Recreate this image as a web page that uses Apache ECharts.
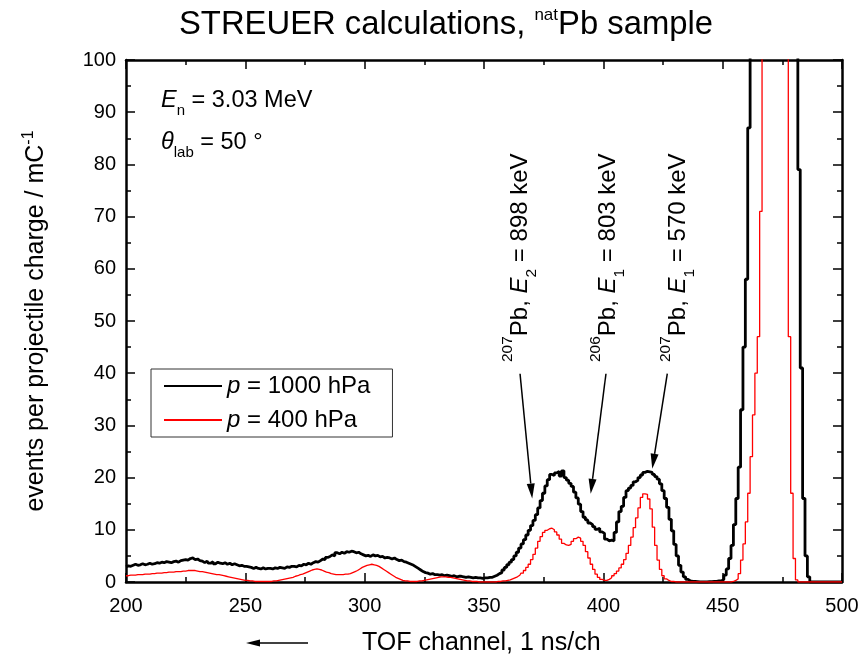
<!DOCTYPE html>
<html>
<head>
<meta charset="utf-8">
<script src="https://cdn.jsdelivr.net/npm/echarts@6/dist/echarts.min.js"></script>
<style>
  body { margin: 0; background: #fff; }
  #main { width: 868px; height: 657px; }
</style>
</head>
<body>
<div id="main"></div>
<script>
// TOF spectra (STREUER), one value per channel starting at channel 200
var firstChannel = 200;

var p1000 = [
  2.9, 3.1, 3.0, 3.2, 3.4, 3.2, 3.3, 3.5, 3.3, 3.4,
  3.6, 3.4, 3.5, 3.7, 3.6, 3.8, 3.7, 3.9, 3.8, 3.7,
  3.9, 4.0, 3.8, 4.1, 4.2, 4.3, 4.2, 4.5, 4.6, 4.3,
  4.4, 4.1, 4.0, 3.7, 4.0, 3.6, 3.9, 3.5, 3.8, 3.6,
  3.5, 3.7, 3.4, 3.6, 3.3, 3.5, 3.3, 3.1, 3.2, 3.0,
  3.0, 2.9, 2.8, 2.6, 2.8, 2.6, 2.5, 2.7, 2.5, 2.6,
  2.6, 2.5, 2.7, 2.6, 2.8, 2.7, 2.6, 2.9, 2.8, 3.0,
  3.0, 2.9, 3.2, 3.1, 3.4, 3.3, 3.6, 3.4, 3.7, 3.9,
  3.8, 4.1, 4.4, 4.3, 4.7, 4.9, 5.2, 5.0, 5.6, 5.4,
  5.7, 5.5, 5.8, 5.7, 5.9, 5.8, 5.6, 5.7, 5.4, 5.2,
  5.0, 5.1, 4.9, 5.2, 5.0, 5.1, 4.8, 4.9, 4.6, 4.7,
  4.6, 4.4, 4.6, 4.3, 4.1, 4.2, 3.9, 3.8, 3.6, 3.4,
  3.2, 2.9, 2.6, 2.3, 2.0, 1.8, 1.7, 1.5, 1.6, 1.4,
  1.4, 1.3, 1.4, 1.2, 1.3, 1.2, 1.1, 1.2, 1.0, 1.1,
  1.1, 1.0, 0.9, 1.0, 0.9, 0.8, 0.9, 0.8, 0.8, 0.7,
  0.8, 0.8, 0.9, 0.9, 1.1, 1.3, 1.6, 1.8, 2.3, 2.8,
  3.3, 3.8, 4.3, 5.0, 5.7, 6.5, 7.3, 8.1, 9.0, 9.9,
  10.8, 11.8, 12.9, 14.2, 15.6, 17.0, 18.4, 19.6, 20.6, 20.4,
  20.9, 21.2, 20.3, 21.3, 20.0, 19.5, 18.9, 18.3, 17.2, 16.1,
  14.9, 13.5, 12.4, 11.9, 11.3, 11.0, 10.6, 10.1, 10.3, 9.6,
  9.3, 8.2, 7.9, 8.0, 7.9, 9.5, 11.5, 13.5, 14.5, 16.2,
  17.5, 18.0, 18.5, 19.2, 19.5, 20.0, 20.5, 21.0, 21.2, 21.1,
  21.0, 20.6, 20.2, 19.7, 18.8, 17.5, 16.0, 14.3, 12.0, 9.8,
  7.2, 5.0, 3.2, 1.9, 1.0, 0.5, 0.2, 0.1, 0.1, 0.05,
  0, 0, 0, 0, 0.05, 0.05, 0.1, 0.1, 0.2, 0.2,
  0.5, 1.3, 2.5, 4.5, 7, 11, 16, 22, 33, 45,
  58, 87, 130, 170, 220, 270, 320, 370, 410, 440,
  460, 470, 465, 450, 420, 380, 330, 280, 230, 180,
  140, 110, 79, 41, 16, 5, 1, 0, 0, 0,
  0, 0, 0, 0, 0, 0, 0, 0, 0, 0,
  0
];

var p400 = [
  1.2, 1.2, 1.3, 1.3, 1.3, 1.4, 1.4, 1.4, 1.5, 1.5,
  1.5, 1.6, 1.6, 1.7, 1.7, 1.7, 1.8, 1.8, 1.9, 1.9,
  1.9, 2.0, 2.0, 2.0, 2.1, 2.1, 2.2, 2.2, 2.2, 2.2,
  2.1, 2.0, 2.0, 1.9, 1.8, 1.7, 1.6, 1.5, 1.4, 1.4,
  1.3, 1.2, 1.1, 1.0, 0.9, 0.8, 0.7, 0.6, 0.5, 0.4,
  0.3, 0.3, 0.2, 0.2, 0.1, 0.1, 0.1, 0.1, 0.1, 0.1,
  0.1, 0.1, 0.2, 0.2, 0.3, 0.4, 0.5, 0.6, 0.7, 0.8,
  0.9, 1.1, 1.2, 1.4, 1.5, 1.7, 1.9, 2.1, 2.3, 2.4,
  2.5, 2.4, 2.3, 2.1, 1.9, 1.8, 1.6, 1.5, 1.4, 1.4,
  1.4, 1.4, 1.5, 1.5, 1.6, 1.8, 2.0, 2.2, 2.5, 2.8,
  3.0, 3.2, 3.3, 3.4, 3.3, 3.2, 3.0, 2.7, 2.4, 2.1,
  1.8, 1.5, 1.2, 0.9, 0.7, 0.5, 0.3, 0.2, 0.2, 0.1,
  0.1, 0.1, 0.1, 0.2, 0.2, 0.3, 0.4, 0.5, 0.6, 0.7,
  0.8, 0.9, 1.0, 1.0, 1.0, 0.9, 0.9, 0.8, 0.7, 0.6,
  0.5, 0.4, 0.3, 0.2, 0.2, 0.1, 0.1, 0.1, 0, 0,
  0, 0, 0, 0, 0, 0, 0.1, 0.1, 0.2, 0.2,
  0.3, 0.4, 0.6, 0.8, 1.0, 1.3, 1.7, 2.2, 2.8, 3.4,
  4.3, 5.3, 6.5, 7.8, 8.7, 9.5, 9.9, 10.2, 10.3, 10.0,
  9.6, 9.0, 8.2, 7.4, 7.1, 7.0, 7.2, 7.8, 8.3, 8.6,
  8.4, 7.8, 7.0, 5.8, 4.6, 3.4, 2.4, 1.5, 0.9, 0.5,
  0.3, 0.3, 0.5, 0.8, 1.2, 1.6, 2.1, 2.7, 3.4, 4.3,
  5.5, 7.0, 8.6, 10.4, 12.3, 14.2, 16.2, 16.9, 16.8, 15.9,
  14.0, 10.5, 7.0, 4.2, 2.4, 1.2, 0.6, 0.3, 0.1, 0.1,
  0, 0, 0, 0, 0, 0, 0, 0, 0, 0,
  0, 0, 0, 0, 0, 0, 0, 0, 0, 0,
  0, 0, 0, 0, 0.1, 0.3, 0.6, 1.6, 4.2, 7.3,
  11.5, 17, 24, 32, 40, 47, 71, 150, 210, 280,
  340, 380, 390, 370, 320, 250, 180, 120, 47, 17,
  4.5, 0.4, 0, 0, 0, 0, 0, 0, 0, 0,
  0, 0, 0, 0, 0, 0, 0, 0, 0, 0,
  0
];

var seriesNames = ['p = 1000 hPa', 'p = 400 hPa'];
var xTicks = [200, 500, 50];   // min, max, step
var yTicks = [0, 100, 10];

// annotation arrows, [channel, value] from -> to
var arrows = [
  { from: [365.1, 39.9], to: [370.2, 16.0] },
  { from: [401.1, 39.9], to: [394.7, 16.9] },
  { from: [426.8, 39.9], to: [420.5, 21.7] }
];
var peakLabels = [
  { x: 520, text: '{sp|207}{m|Pb, }{it|E}{sb|2}{m| = 898 keV}' },
  { x: 608, text: '{sp|206}{m|Pb, }{it|E}{sb|1}{m| = 803 keV}' },
  { x: 678, text: '{sp|207}{m|Pb, }{it|E}{sb|1}{m| = 570 keV}' }
];

var FONT = '"Liberation Sans", Arial, Helvetica, sans-serif';

function toPairs(start, vals) {
  return vals.map(function(v, i) { return [start + i, v]; });
}

function axisX(pos, labels) {
  return {
    type: 'value', position: pos, min: xTicks[0], max: xTicks[1], interval: xTicks[2],
    axisLine: { show: true, onZero: false, lineStyle: { color: '#000', width: 2.5 } },
    axisTick: { show: true, inside: true, length: 9, lineStyle: { color: '#000', width: 1.5 } },
    minorTick: { show: true, splitNumber: 2, length: 5, lineStyle: { color: '#000', width: 1.5 } },
    splitLine: { show: false },
    axisLabel: { show: labels, color: '#000', fontSize: 20, fontFamily: FONT, margin: 14,
      showMinLabel: true, showMaxLabel: true, hideOverlap: false }
  };
}
function axisY(pos, labels) {
  return {
    type: 'value', position: pos, min: yTicks[0], max: yTicks[1], interval: yTicks[2],
    axisLine: { show: true, onZero: false, lineStyle: { color: '#000', width: 2.5 } },
    axisTick: { show: true, inside: true, length: 9, lineStyle: { color: '#000', width: 1.5 } },
    minorTick: { show: true, splitNumber: 2, length: 5, lineStyle: { color: '#000', width: 1.5 } },
    splitLine: { show: false },
    axisLabel: { show: labels, color: '#000', fontSize: 20, fontFamily: FONT, margin: 10,
      showMinLabel: true, showMaxLabel: true, hideOverlap: false }
  };
}

var myChart = echarts.init(document.getElementById('main'));

var option = {
  animation: false,
  backgroundColor: '#fff',
  grid: { left: 126, right: 26, top: 60, bottom: 75, outerBoundsMode: 'none' },
  xAxis: [axisX('bottom', true), axisX('top', false)],
  yAxis: [axisY('left', true), axisY('right', false)],
  legend: {
    left: 151, top: 369, orient: 'vertical',
    itemWidth: 58, itemHeight: 1, itemGap: 10,
    padding: [5, 22, 5, 12],
    borderColor: '#333', borderWidth: 1,
    itemStyle: { opacity: 0 },
    data: seriesNames,
    formatter: function(name) { return '{i|p}{t|' + name.slice(1) + '}'; },
    textStyle: {
      color: '#000', fontSize: 24, fontFamily: FONT,
      rich: {
        i: { fontStyle: 'italic', fontSize: 24, fontFamily: FONT, color: '#000' },
        t: { fontSize: 24, fontFamily: FONT, color: '#000' }
      }
    }
  },
  series: [{
    name: seriesNames[0],
    type: 'line',
    step: 'middle',
    symbol: 'none',
    clip: true,
    color: '#000',
    lineStyle: { color: '#000', width: 2.8 },
    data: toPairs(firstChannel, p1000)
  }, {
    name: seriesNames[1],
    type: 'line',
    step: 'middle',
    symbol: 'none',
    clip: true,
    color: '#ff0000',
    lineStyle: { color: '#ff0000', width: 1.3 },
    data: toPairs(firstChannel, p400)
  }]
};

myChart.setOption(option);

// texts and arrows drawn on top
function txt(x, y, text, rich, align, rot) {
  return {
    type: 'text', x: x, y: y, rotation: rot || 0, z: 100,
    style: {
      text: text, rich: rich, fill: '#000',
      font: '22px ' + FONT,
      textAlign: align, align: align,
      textVerticalAlign: 'middle', verticalAlign: 'middle'
    }
  };
}

var g = [];

g.push(txt(446, 25, '{a|STREUER calculations, }{s|nat}{a|Pb sample}', {
  a: { fontSize: 32.8, fontFamily: FONT, lineHeight: 36 },
  s: { fontSize: 17, fontFamily: FONT, lineHeight: 21, verticalAlign: 'top' }
}, 'center'));

var infoRich = {
  it: { fontSize: 23.5, fontFamily: FONT, fontStyle: 'italic', lineHeight: 36 },
  m: { fontSize: 23.5, fontFamily: FONT, lineHeight: 36 },
  sb: { fontSize: 15, fontFamily: FONT, lineHeight: 7, verticalAlign: 'bottom' }
};
g.push(txt(161, 100.5, '{it|E}{sb|n}{m| = 3.03 MeV}', infoRich, 'left'));
g.push(txt(161, 142.5, '{it|θ}{sb|lab}{m| = 50 °}', infoRich, 'left'));

var peakRich = {
  m: { fontSize: 24, fontFamily: FONT, lineHeight: 40 },
  it: { fontSize: 24, fontFamily: FONT, fontStyle: 'italic', lineHeight: 40 },
  sp: { fontSize: 15.5, fontFamily: FONT, lineHeight: 19, verticalAlign: 'top' },
  sb: { fontSize: 15.5, fontFamily: FONT, lineHeight: 8, verticalAlign: 'bottom' }
};
peakLabels.forEach(function(p) {
  g.push(txt(p.x, 362, p.text, peakRich, 'left', Math.PI / 2));
});

// y axis title
g.push(txt(36, 321, '{m|events per projectile charge / mC}{sp|-1}', {
  m: { fontSize: 25, fontFamily: FONT, lineHeight: 30 },
  sp: { fontSize: 16, fontFamily: FONT, lineHeight: 14, verticalAlign: 'top' }
}, 'center', Math.PI / 2));

// x axis title with direction arrow
g.push(txt(362, 643, '{m|TOF channel, 1 ns/ch}', {
  m: { fontSize: 25, fontFamily: FONT, lineHeight: 28 }
}, 'left'));

function arrow(x1, y1, x2, y2, headLen, headHalf, lw) {
  var dx = x2 - x1, dy = y2 - y1;
  var len = Math.sqrt(dx * dx + dy * dy);
  var ux = dx / len, uy = dy / len;
  var bx = x2 - ux * headLen, by = y2 - uy * headLen;
  return [{
    type: 'line', z: 100,
    shape: { x1: x1, y1: y1, x2: bx, y2: by },
    style: { stroke: '#000', lineWidth: lw }
  }, {
    type: 'polygon', z: 100,
    shape: { points: [[x2, y2], [bx - uy * headHalf, by + ux * headHalf], [bx + uy * headHalf, by - ux * headHalf]] },
    style: { fill: '#000' }
  }];
}

arrows.forEach(function(a) {
  var p0 = myChart.convertToPixel({ xAxisIndex: 0, yAxisIndex: 0 }, a.from);
  var p1 = myChart.convertToPixel({ xAxisIndex: 0, yAxisIndex: 0 }, a.to);
  g = g.concat(arrow(p0[0], p0[1], p1[0], p1[1], 15, 4, 1.5));
});

g = g.concat(arrow(308, 643, 246, 643, 14, 3.5, 1.5));

myChart.setOption({ graphic: { elements: g } });
</script>
</body>
</html>
